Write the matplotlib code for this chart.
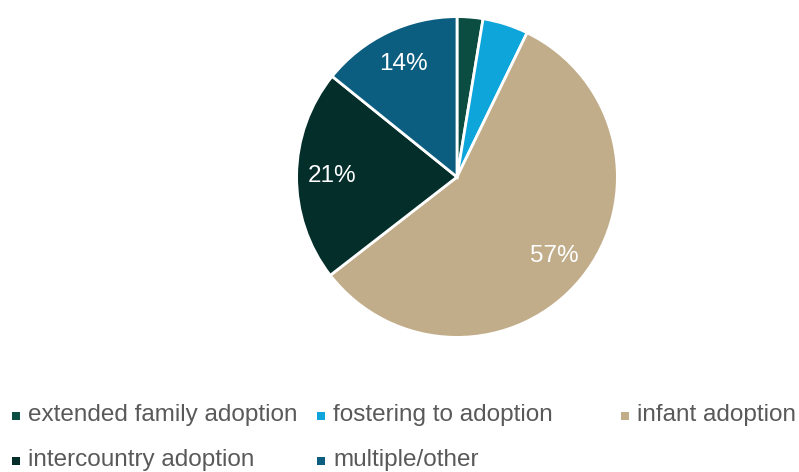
import numpy as np
import matplotlib.pyplot as plt
import matplotlib
matplotlib.rcParams['font.family'] = ['Liberation Sans', 'DejaVu Sans']

labels = ['extended family adoption', 'fostering to adoption', 'infant adoption',
          'intercountry adoption', 'multiple/other']
shares = [2.6, 4.6, 57.3, 21.3, 14.2]
colors = ['#0b4d40', '#0ea5da', '#c2ad8a', '#032e2a', '#0b5e80']

def pct(p):
    return '%d%%' % round(p) if p >= 10 else ''

fig = plt.figure(figsize=(7.99, 4.72), dpi=100, facecolor='white')
ax = fig.add_axes([(457 - 162) / 799, (472 - 339) / 472, 324 / 799, 324 / 472])
wedges, texts, autotexts = ax.pie(shares, colors=colors, startangle=90, counterclock=False,
                                  autopct=pct, pctdistance=0.78,
                                  wedgeprops=dict(edgecolor='white', linewidth=2),
                                  textprops=dict(color='white', fontsize=17.5))
ax.set_xlim(-1.01, 1.01)
ax.set_ylim(-1.01, 1.01)
ax.set_aspect('equal')

# legend, laid out row by row
spots = [(16, 416), (321, 416), (625, 416), (16, 461), (321, 461)]
for (px, py), lab, col in zip(spots, labels, colors):
    fig.patches.append(plt.Rectangle(((px - 4) / 799, 1 - (py + 4) / 472), 8 / 799, 8 / 472,
                                     transform=fig.transFigure, facecolor=col, edgecolor='none'))
    fig.text((px + 12) / 799, 1 - (py - 1) / 472, lab, fontsize=17.5, color='#595959',
             va='center', ha='left')

plt.savefig('out.png', dpi=100)
